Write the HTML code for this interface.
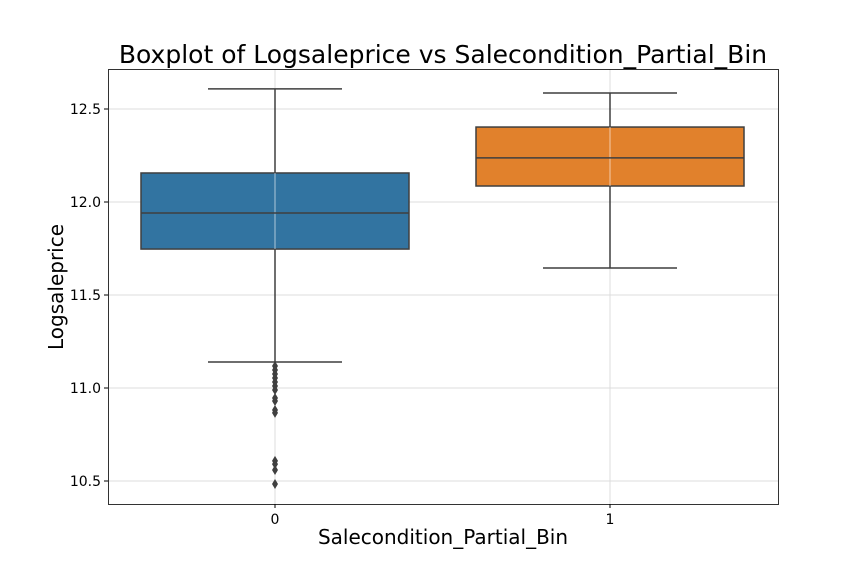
<!DOCTYPE html>
<html><head><meta charset="utf-8"><style>
body{margin:0;background:#fff;}
svg text{font-family:"DejaVu Sans","Liberation Sans",sans-serif;}
</style></head><body>
<svg id="chart" width="864" height="576">
<rect width="864" height="576" fill="#fff"/>
<g id="grid"></g>
<g id="boxes"></g>
<rect x="108.5" y="69.5" width="670" height="435" fill="none" stroke="#000" stroke-width="0.8"/>
<g id="axes"></g>
<text x="443" y="63" font-size="25" text-anchor="middle">Boxplot of Logsaleprice vs Salecondition_Partial_Bin</text>
<text x="443" y="544" font-size="20" text-anchor="middle">Salecondition_Partial_Bin</text>
<text transform="translate(63,287) rotate(-90)" font-size="20" text-anchor="middle">Logsaleprice</text>
</svg>
<script>
const categories=["0","1"];
const q1=[11.747,12.086];
const medians=[11.941,12.237];
const q3=[12.156,12.403];
const whiskLow=[11.140,11.645];
const whiskHigh=[12.608,12.586];
const outliers0=[11.118,11.097,11.075,11.054,11.032,11.011,10.989,10.946,10.930,10.882,10.866,10.608,10.591,10.559,10.484];
const outliers1=[];
const yTicks=[10.5,11.0,11.5,12.0,12.5];
const colors=["#3274a1","#e1812c"];
const NS="http://www.w3.org/2000/svg";
function y(v){return 202-(v-12)*186;}
function x(i){return 275+i*335;}
function mk(t,a,p){const e=document.createElementNS(NS,t);for(const k in a)e.setAttribute(k,a[k]);p.appendChild(e);return e;}
const grid=document.getElementById('grid'),axes=document.getElementById('axes'),boxes=document.getElementById('boxes');
yTicks.forEach(t=>{
 const g=mk('line',{x1:108,x2:778,y1:y(t),y2:y(t),stroke:'#dcdcdc','stroke-width':1},grid);
 
 
 mk('line',{x1:104,x2:108,y1:y(t),y2:y(t),stroke:'#000'},axes);
 const tx=mk('text',{x:101,y:y(t)+5,'font-size':14,'text-anchor':'end'},axes);
 tx.textContent=t.toFixed(1);
 
 
});
categories.forEach((c,i)=>{
 const g=mk('line',{x1:x(i),x2:x(i),y1:69,y2:504,stroke:'#dcdcdc','stroke-width':1},grid);
 
 
 mk('line',{x1:x(i),x2:x(i),y1:504,y2:508,stroke:'#000'},axes);
 const tx=mk('text',{x:x(i),y:524,'font-size':14,'text-anchor':'middle'},axes);
 tx.textContent=c;
 
 
 const ed='#3f3f3f',hw=134,cw=67;
 mk('line',{x1:x(i),x2:x(i),y1:y(whiskHigh[i]),y2:y(q3[i]),stroke:ed,'stroke-width':1.5},boxes);
 mk('line',{x1:x(i),x2:x(i),y1:y(q1[i]),y2:y(whiskLow[i]),stroke:ed,'stroke-width':1.5},boxes);
 mk('line',{x1:x(i)-cw,x2:x(i)+cw,y1:y(whiskHigh[i]),y2:y(whiskHigh[i]),stroke:ed,'stroke-width':1.5},boxes);
 mk('line',{x1:x(i)-cw,x2:x(i)+cw,y1:y(whiskLow[i]),y2:y(whiskLow[i]),stroke:ed,'stroke-width':1.5},boxes);
 const b=mk('rect',{x:x(i)-hw,y:y(q3[i]),width:2*hw,height:y(q1[i])-y(q3[i]),fill:colors[i],stroke:ed,'stroke-width':1.5},boxes);
 
 
 mk('line',{x1:x(i),x2:x(i),y1:y(q3[i]),y2:y(q1[i]),stroke:'#ffffff','stroke-opacity':0.6,'stroke-width':1},boxes);
 mk('line',{x1:x(i)-hw,x2:x(i)+hw,y1:y(medians[i]),y2:y(medians[i]),stroke:ed,'stroke-width':1.5},boxes);
 const outs=i===0?outliers0:outliers1;
 outs.forEach(v=>{
  const cx=x(i),cy=y(v);
  const p=mk('path',{d:`M${cx},${cy-5}L${cx+3},${cy}L${cx},${cy+5}L${cx-3},${cy}Z`,fill:ed},boxes);
  
  
 });
});
</script>
</body></html>
